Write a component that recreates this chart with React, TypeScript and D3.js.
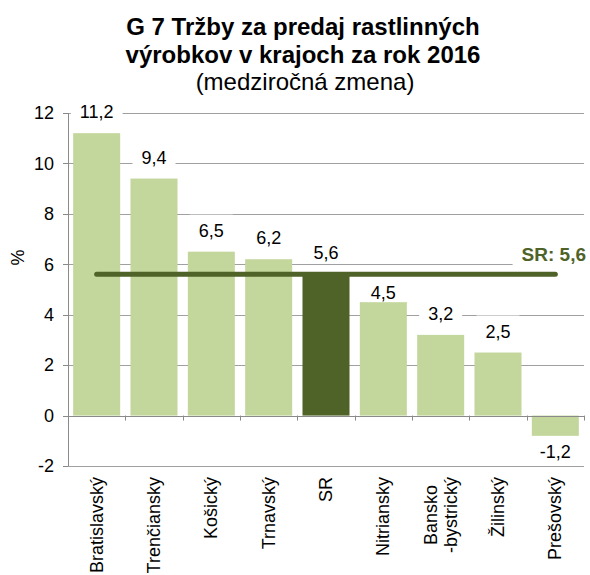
import React, { useEffect, useRef } from "react";
import * as d3 from "d3";

const categories: string[] = ["Bratislavský", "Trenčiansky", "Košický", "Trnavský", "SR", "Nitriansky", "Bansko\n-bystrický", "Žilinský", "Prešovský"];
const values: number[] = [11.2, 9.4, 6.5, 6.2, 5.6, 4.5, 3.2, 2.5, -1.2];
const highlight: string[] = ["SR"];
const srValue = 5.6;
const yTicks: number[] = [-2, 0, 2, 4, 6, 8, 10, 12];
const titleLines: string[] = ["G 7 Tržby za predaj rastlinných", "výrobkov v krajoch za rok 2016"];
const subtitle = "(medziročná zmena)";
const yLabel = "%";
const srLabel = "SR: 5,6";

const W = 590, H = 575;
const FONT = "'Liberation Sans', Arial, sans-serif";
const LIGHT = "#C3D69B";
const DARK = "#4F6228";
const GRID = "#a0a0a0";
const AXIS = "#8a8a8a";

const fmt = (v: number) => String(v).replace(".", ",");

export default function App() {
  const ref = useRef<SVGSVGElement>(null);
  useEffect(() => {
    const svg = d3.select(ref.current);
    svg.selectAll("*").remove();
    const left = 68, right = 584, top = 113, bottom = 466;
    const y = d3.scaleLinear().domain([-2, 12]).range([bottom, top]);
    const x = d3.scaleBand<string>().domain(categories).range([left, right]).paddingInner(0.18).paddingOuter(0.09);
    const step = x.step();
    const y0 = y(0);
    const srY = y(srValue);

    // title
    const t = svg.append("g").attr("font-family", FONT).attr("fill", "#000");
    titleLines.forEach((l, i) => {
      t.append("text").attr("x", 303).attr("y", 35 + i * 28).attr("text-anchor", "middle")
        .attr("font-size", 24).attr("font-weight", "bold").text(l);
    });
    t.append("text").attr("x", 305).attr("y", 90).attr("text-anchor", "middle")
      .attr("font-size", 24).text(subtitle);

    // gridlines
    const g = svg.append("g");
    yTicks.forEach((v) => {
      if (v === 0) return;
      g.append("line").attr("x1", left).attr("x2", right).attr("y1", Math.round(y(v)) + 0.5).attr("y2", Math.round(y(v)) + 0.5)
        .attr("stroke", GRID).attr("stroke-width", 1);
    });

    // bars
    categories.forEach((c, i) => {
      const v = values[i];
      svg.append("rect").attr("x", x(c)!).attr("width", x.bandwidth())
        .attr("y", y(Math.max(0, v))).attr("height", Math.abs(y(v) - y0))
        .attr("fill", highlight.includes(c) ? DARK : LIGHT);
    });

    // axes
    const ax = svg.append("g").attr("stroke", AXIS).attr("stroke-width", 1);
    ax.append("line").attr("x1", left + 0.5).attr("x2", left + 0.5).attr("y1", top).attr("y2", bottom);
    ax.append("line").attr("x1", left).attr("x2", right).attr("y1", Math.round(y0) + 0.5).attr("y2", Math.round(y0) + 0.5);
    yTicks.forEach((v) => {
      ax.append("line").attr("x1", left - 5).attr("x2", left).attr("y1", Math.round(y(v)) + 0.5).attr("y2", Math.round(y(v)) + 0.5);
    });
    for (let i = 0; i <= categories.length; i++) {
      const xx = Math.round(left + i * step) + 0.5;
      ax.append("line").attr("x1", xx).attr("x2", xx).attr("y1", y0).attr("y2", y0 + 5);
    }

    // y tick labels
    const tl = svg.append("g").attr("font-family", FONT).attr("font-size", 18).attr("fill", "#000");
    yTicks.forEach((v) => {
      tl.append("text").attr("x", 54).attr("y", y(v)).attr("dy", "0.35em").attr("text-anchor", "end").text(String(v));
    });
    tl.append("text").attr("transform", `translate(24,${(top + bottom) / 2 - 32}) rotate(-90)`)
      .attr("text-anchor", "middle").text(yLabel);

    // value labels with white background
    const vl = svg.append("g").attr("font-family", FONT).attr("font-size", 18).attr("fill", "#000");
    categories.forEach((c, i) => {
      const v = values[i];
      const cx = x(c)! + x.bandwidth() / 2;
      let base = v >= 0 ? y(v) - 15 : y(v) + 12;
      // avoid collision with the SR reference line: sit directly on the bar
      if (v >= 0 && base - 18 < srY + 4 && base + 4 > srY - 4 && !highlight.includes(c)) base = y(v) - 3;
      const txt = vl.append("text").attr("x", cx).attr("y", base).attr("text-anchor", "middle").text(fmt(v));
      const w = (txt.node() as SVGTextElement).getComputedTextLength();
      vl.insert("rect", "text").attr("x", cx - w / 2 - 9).attr("y", base - 22).attr("width", w + 18).attr("height", 25).attr("fill", "#fff");
    });

    // SR line
    const first = categories[0], last = categories[categories.length - 1];
    svg.append("line")
      .attr("x1", x(first)! + x.bandwidth() / 2).attr("x2", x(last)! + x.bandwidth() / 2)
      .attr("y1", srY).attr("y2", srY)
      .attr("stroke", DARK).attr("stroke-width", 5).attr("stroke-linecap", "round");

    const sg = svg.append("g").attr("font-family", FONT).attr("font-size", 19).attr("font-weight", "bold").attr("fill", DARK);
    const st = sg.append("text").attr("x", 586).attr("y", srY - 13).attr("text-anchor", "end").text(srLabel);
    const sw = (st.node() as SVGTextElement).getComputedTextLength();
    sg.insert("rect", "text").attr("x", 586 - sw - 9).attr("y", srY - 35).attr("width", sw + 12).attr("height", 26).attr("fill", "#fff");

    // category labels
    const cl = svg.append("g").attr("font-family", FONT).attr("font-size", 18).attr("fill", "#000");
    const topY = 477;
    categories.forEach((c) => {
      const lines = c.split("\n");
      const cx = x(c)! + x.bandwidth() / 2;
      const nodes = lines.map((l) =>
        cl.append("text").attr("text-anchor", "middle").attr("dominant-baseline", "central").text(l));
      const widths = nodes.map((n) => (n.node() as SVGTextElement).getComputedTextLength());
      const maxW = Math.max(...widths);
      nodes.forEach((n, j) => {
        const off = (j - (lines.length - 1) / 2) * 20;
        n.attr("transform", `translate(${cx + off},${topY + maxW / 2}) rotate(-90)`);
      });
    });
  }, []);
  return <svg ref={ref} width={W} height={H} style={{ position: "absolute", left: 0, top: 0, background: "#fff" }} />;
}
